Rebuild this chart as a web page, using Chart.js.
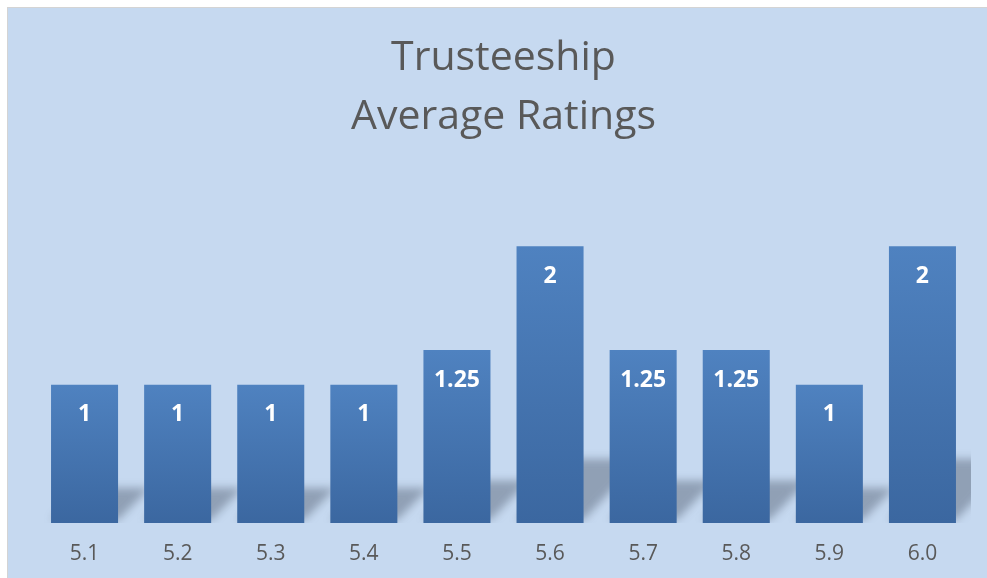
<!DOCTYPE html>
<html>
<head>
<meta charset="utf-8">
<script src="https://cdn.jsdelivr.net/npm/chart.js@4"></script>
<style>
  html, body { margin: 0; padding: 0; background: #ffffff; }
  #wrap { width: 987px; height: 578px; position: relative; }
</style>
</head>
<body>
<div id="wrap"><canvas id="c" width="987" height="578"></canvas></div>
<script>
const categories = ["5.1", "5.2", "5.3", "5.4", "5.5", "5.6", "5.7", "5.8", "5.9", "6.0"];
const ratings = [1, 1, 1, 1, 1.25, 2, 1.25, 1.25, 1, 2];
const titleLines = ["Trusteeship", "Average Ratings"];

const panelPlugin = {
  id: 'panel',
  beforeDraw(chart) {
    const ctx = chart.ctx;
    ctx.save();
    ctx.fillStyle = '#ffffff';
    ctx.fillRect(0, 0, chart.width, chart.height);
    ctx.fillStyle = '#d4d4d4';
    ctx.fillRect(7, 7, chart.width - 7, chart.height - 7);
    ctx.fillStyle = '#c6d9f0';
    ctx.fillRect(8, 8, chart.width - 8, chart.height - 8);
    ctx.restore();
  }
};

const shadowPlugin = {
  id: 'barShadow',
  beforeDatasetsDraw(chart) {
    const ctx = chart.ctx;
    const area = chart.chartArea;
    const meta = chart.getDatasetMeta(0);
    ctx.save();
    ctx.beginPath();
    ctx.rect(area.left - 20, area.top, area.right - area.left + 22, area.bottom - area.top);
    ctx.clip();
    ctx.filter = 'blur(4px)';
    ctx.fillStyle = 'rgba(70, 80, 100, 0.42)';
    meta.data.forEach(bar => {
      const p = bar.getProps(['x', 'y', 'base', 'width'], true);
      const h = p.base - p.y;
      const hh = h * 0.21 + 6;
      const dx = hh * 0.9;
      const l = p.x - p.width / 2, r = p.x + p.width / 2;
      ctx.beginPath();
      ctx.moveTo(l, p.base - 3);
      ctx.lineTo(r, p.base - 3);
      ctx.lineTo(r + dx, p.base - hh);
      ctx.lineTo(l + dx, p.base - hh);
      ctx.closePath();
      ctx.fill();
    });
    ctx.restore();
  }
};

const labelPlugin = {
  id: 'valueLabels',
  afterDatasetsDraw(chart) {
    const ctx = chart.ctx;
    const meta = chart.getDatasetMeta(0);
    const data = chart.data.datasets[0].data;
    ctx.save();
    ctx.fillStyle = '#ffffff';
    ctx.font = 'bold 23px "Open Sans"';
    ctx.textAlign = 'center';
    ctx.textBaseline = 'middle';
    meta.data.forEach((bar, i) => {
      const p = bar.getProps(['x', 'y'], true);
      ctx.fillText(String(data[i]), p.x, p.y + 30);
    });
    ctx.restore();
  }
};

function barGradient(context) {
  const chart = context.chart;
  const yScale = chart.scales && chart.scales.y;
  if (!yScale || context.type !== 'data') return '#4575b0';
  const v = context.raw;
  const top = yScale.getPixelForValue(v);
  const bottom = yScale.getPixelForValue(0);
  if (!isFinite(top) || !isFinite(bottom) || top === bottom) return '#4575b0';
  const g = chart.ctx.createLinearGradient(0, top, 0, bottom);
  g.addColorStop(0, '#4f82c0');
  g.addColorStop(1, '#3b67a0');
  return g;
}

new Chart(document.getElementById('c'), {
  type: 'bar',
  data: {
    labels: categories,
    datasets: [{
      data: ratings,
      backgroundColor: barGradient,
      borderWidth: 0,
      barPercentage: 0.8,
      categoryPercentage: 0.9
    }]
  },
  options: {
    responsive: false,
    animation: false,
    devicePixelRatio: 1,
    layout: { padding: { left: 38, right: 18, top: 0, bottom: 15 } },
    plugins: {
      legend: { display: false },
      tooltip: { enabled: false },
      title: {
        display: true,
        text: titleLines,
        color: '#595959',
        font: { family: '"Open Sans"', size: 41, weight: 'normal', lineHeight: 1.44 },
        padding: { top: 29, bottom: 30 }
      }
    },
    scales: {
      x: {
        grid: { display: false, drawTicks: false },
        border: { display: false },
        ticks: {
          color: '#595959',
          font: { family: '"Open Sans"', size: 21 },
          padding: 18
        },
        afterFit(scale) { scale.height = 40; }
      },
      y: {
        display: false,
        min: 0,
        max: 2.5
      }
    }
  },
  plugins: [panelPlugin, shadowPlugin, labelPlugin]
});
</script>
</body>
</html>
